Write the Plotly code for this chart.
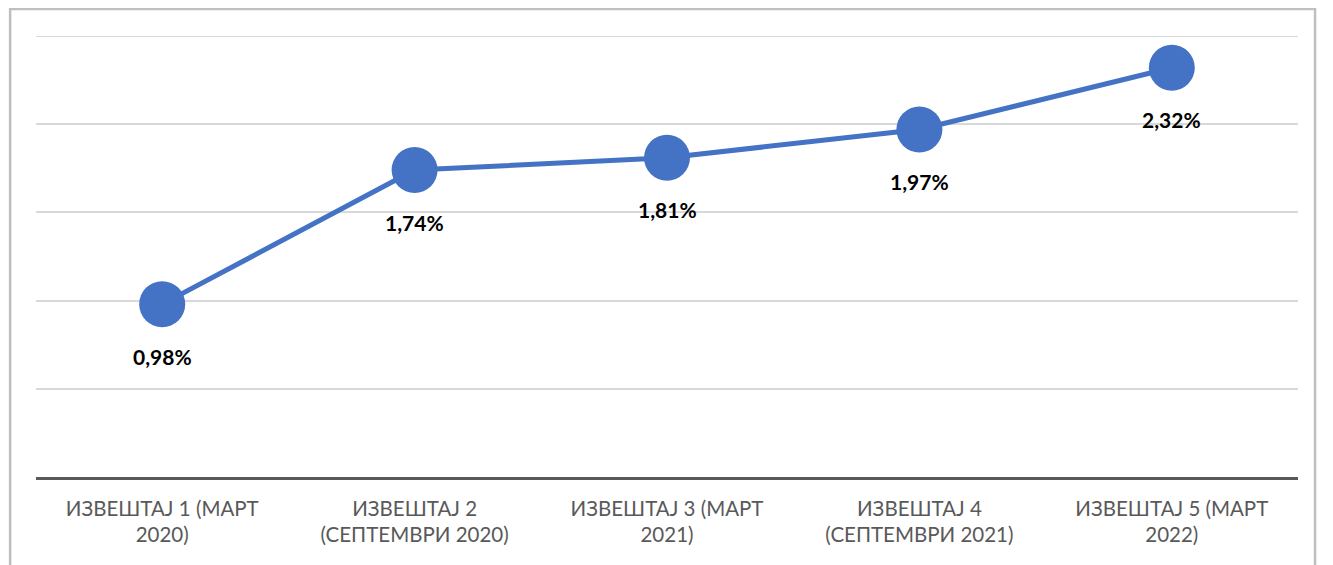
import plotly.graph_objects as go

categories = [
    "ИЗВЕШТАЈ 1 (МАРТ<br>2020)",
    "ИЗВЕШТАЈ 2<br>(СЕПТЕМВРИ 2020)",
    "ИЗВЕШТАЈ 3 (МАРТ<br>2021)",
    "ИЗВЕШТАЈ 4<br>(СЕПТЕМВРИ 2021)",
    "ИЗВЕШТАЈ 5 (МАРТ<br>2022)",
]
values = [0.98, 1.74, 1.81, 1.97, 2.32]
labels = [f"{v:.2f}%".replace(".", ",") for v in values]
y_max = 2.5

blue = "#4472C4"

fig = go.Figure(go.Scatter(
    x=categories,
    y=values,
    mode="lines+markers",
    line=dict(color=blue, width=5),
    marker=dict(color=blue, size=46),
    cliponaxis=False,
))

# value labels below each point
for cat, v, lab in zip(categories, values, labels):
    fig.add_annotation(
        x=cat, y=v, text=lab, showarrow=False,
        yshift=-52,
        font=dict(family="Lato", size=21, color="#000000", weight="bold"),
    )

# page body adds an 8px offset, size and margins compensate for it
fig.update_layout(
    width=1325,
    height=557,
    margin=dict(l=28, r=35, t=28, b=88),
    plot_bgcolor="white",
    paper_bgcolor="white",
    showlegend=False,
    font=dict(family="Lato", size=20.5, color="#595959"),
    xaxis=dict(
        range=[-0.5, 4.5],
        showgrid=False,
        showline=True,
        linecolor="#595959",
        linewidth=3,
        ticks="outside",
        ticklen=11,
        tickcolor="rgba(0,0,0,0)",
        tickfont=dict(family="Lato", size=20.5, color="#595959"),
        fixedrange=True,
    ),
    yaxis=dict(
        range=[0, y_max],
        tick0=0,
        dtick=0.5,
        showticklabels=False,
        showgrid=True,
        gridcolor="#d9d9d9",
        gridwidth=2,
        zeroline=False,
        fixedrange=True,
    ),
    shapes=[
        # top gridline (plotly skips the one on the plot edge)
        dict(
            type="line", xref="paper", yref="y",
            x0=0, x1=1, y0=y_max, y1=y_max,
            line=dict(color="#d9d9d9", width=2),
            layer="below",
        ),
        # light grey frame around the whole chart
        dict(
            type="rect",
            xref="paper", yref="paper",
            x0=-0.0205, x1=1.0135, y0=-0.3, y1=1.061,
            line=dict(color="#bfbfbf", width=2.5),
            fillcolor="rgba(0,0,0,0)",
            layer="below",
        ),
    ],
)

fig.write_html("out.html")
